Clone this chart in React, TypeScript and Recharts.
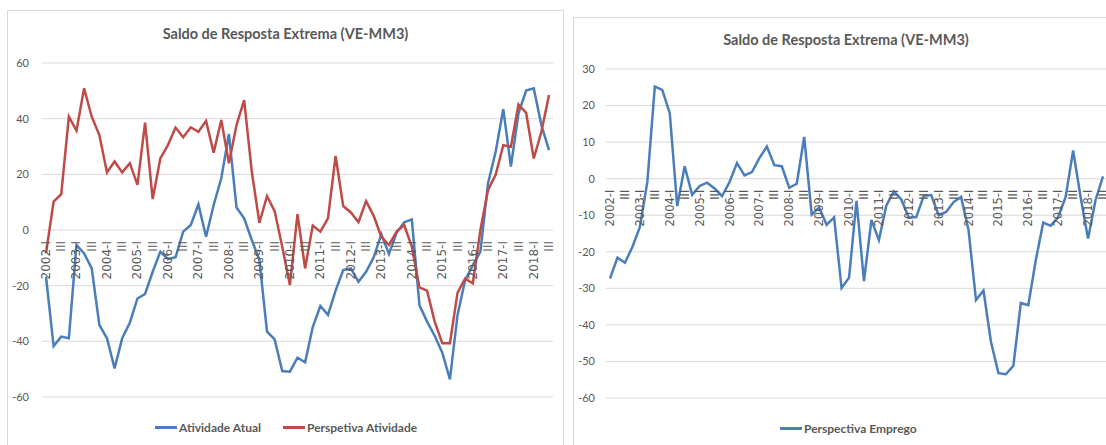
import { LineChart, Line, XAxis, YAxis, CartesianGrid, ReferenceDot } from 'recharts';

const years = [2002, 2003, 2004, 2005, 2006, 2007, 2008, 2009, 2010, 2011, 2012, 2013, 2014, 2015, 2016, 2017, 2018];
const quarterNames = ['I', 'II', 'III', 'IV'];

// Saldo de resposta extrema, média móvel de 3 meses
const atividadeAtual = [
  -16.8, -41.7, -38.3, -38.9, -5.4, -8.4, -13.8, -34.1, -38.9, -49.7, -38.9, -33.3,
  -24.6, -23.0, -15.0, -7.8, -10.5, -9.8, -0.6, 1.8, 9.2, -2.4, 9.0, 18.6,
  34.5, 8.1, 4.2, -3.6, -10.8, -36.5, -39.3, -50.7, -50.9, -45.9, -47.5, -34.9,
  -27.3, -30.5, -21.8, -14.4, -13.8, -18.6, -15.0, -9.8, -1.5, -8.6, -1.0, 2.8,
  3.8, -27.0, -32.9, -38.0, -44.1, -53.7, -30.5, -18.0, -12.6, -7.8, 16.8, 28.1,
  43.4, 22.8, 41.9, 50.1, 50.9, 37.7, 28.7,
];
const perspetivaAtividade = [
  -8.4, 10.2, 12.9, 40.7, 35.7, 50.9, 40.7, 34.1, 20.7, 24.6, 20.7, 24.0,
  16.2, 38.6, 11.1, 25.7, 30.5, 36.8, 33.3, 36.9, 35.3, 39.2, 27.8, 39.5,
  24.0, 37.7, 46.7, 21.0, 2.6, 12.2, 6.8, -6.0, -19.8, 5.7, -13.8, 1.6,
  -0.6, 4.2, 26.6, 8.6, 6.3, 2.8, 10.4, 5.1, -2.5, -5.4, -0.6, 1.8,
  -6.0, -20.6, -21.8, -32.9, -40.7, -40.7, -22.5, -17.4, -19.2, 0.0, 14.4, 19.8,
  30.5, 29.9, 45.1, 42.1, 25.7, 35.3, 48.5,
];
const perspectivaEmprego = [
  -27.3, -21.6, -23.0, -18.7, -13.2, -0.9, 25.2, 24.3, 17.9, -7.5, 3.4, -4.4,
  -2.0, -1.1, -2.7, -4.8, -0.9, 4.3, 0.9, 1.8, 5.6, 8.8, 3.7, 3.4,
  -2.5, -1.4, 11.4, -9.8, -7.9, -12.6, -10.6, -29.9, -27.1, -6.1, -28.0, -11.3,
  -16.8, -7.3, -3.5, -5.7, -10.7, -10.5, -4.7, -4.5, -10.0, -9.1, -6.4, -5.0,
  -14.1, -33.2, -30.6, -44.6, -53.2, -53.5, -51.2, -34.0, -34.6, -22.3, -12.0, -12.9,
  -10.5, -5.0, 7.7, -5.0, -16.4, -5.9, 0.6,
];

const leftTicks = [60, 40, 20, 0, -20, -40, -60];
const rightTicks = [30, 20, 10, 0, -10, -20, -30, -40, -50, -60];

const TITLE = 'Saldo de Resposta Extrema (VE-MM3)';
const BLUE = '#4a7ebb';
const RED = '#be4b48';
const GRAY = '#595959';

const quarters = years
  .flatMap((y) => quarterNames.map((q) => `${y}-${q}`))
  .slice(0, atividadeAtual.length);

// Excel shows "2002-I", "III", "2003-I", "III", ...
const tickLabels = quarters
  .filter((_, i) => i % 2 === 0)
  .map((key) => ({ key, text: key.endsWith('-I') ? key : key.split('-')[1] }));

const rows = quarters.map((q, i) => ({
  q,
  atual: atividadeAtual[i],
  persp: perspetivaAtividade[i],
  emprego: perspectivaEmprego[i],
}));

const ZeroTick = (props: any) => {
  const vb = props.viewBox || {};
  const x = vb.x ?? 0;
  const y = (vb.y ?? 0) + 11;
  return (
    <text
      x={x}
      y={y}
      transform={`rotate(-90 ${x} ${y})`}
      textAnchor="end"
      dominantBaseline="central"
      fontFamily="DejaVu Sans"
      fontSize={props.size}
      fill={GRAY}
    >
      {props.tickText}
    </text>
  );
};

const LegendItem = ({ left, top, color, label }: { left: number; top: number; color: string; label: string }) => (
  <div style={{ position: 'absolute', left, top, display: 'flex', alignItems: 'center', height: 16 }}>
    <div style={{ width: 22, height: 3, background: color, marginRight: 2 }} />
    <span style={{ fontFamily: 'Lato', fontWeight: 700, fontSize: 12, color: GRAY, whiteSpace: 'nowrap' }}>{label}</span>
  </div>
);

const titleStyle: React.CSSProperties = {
  position: 'absolute',
  textAlign: 'center',
  fontFamily: 'Lato',
  fontWeight: 700,
  fontSize: 14.5,
  lineHeight: '20px',
  color: GRAY,
  whiteSpace: 'nowrap',
};

const yTick = { fontFamily: 'Lato', fontSize: 11, fill: GRAY };

export default function App() {
  return (
    <div style={{ position: 'absolute', left: 0, top: 0, width: 1106, height: 445, overflow: 'hidden', background: '#fff' }}>
      <div style={{ position: 'absolute', left: 7, top: 10, width: 557, height: 460, border: '1px solid #d9d9d9', boxSizing: 'border-box' }} />
      <div style={{ position: 'absolute', left: 573, top: 17, width: 600, height: 460, border: '1px solid #d9d9d9', boxSizing: 'border-box' }} />

      <div style={{ ...titleStyle, left: 7, width: 557, top: 24 }}>{TITLE}</div>
      <div style={{ ...titleStyle, left: 646, width: 400, top: 30 }}>{TITLE}</div>

      <div style={{ position: 'absolute', left: 0, top: 0 }}>
        <LineChart width={563} height={445} data={rows} margin={{ top: 63, right: 10, bottom: 48, left: 0 }}>
          <CartesianGrid vertical={false} stroke="#d9d9d9" />
          <XAxis dataKey="q" hide padding={{ left: 4, right: 4 }} />
          <YAxis
            domain={[-60, 60]}
            ticks={leftTicks}
            width={42}
            axisLine={false}
            tickLine={false}
            tickSize={0}
            tickMargin={13}
            tick={yTick}
          />
          {tickLabels.map((t) => (
            <ReferenceDot key={t.key} x={t.key} y={0} r={0} fill="none" stroke="none" label={<ZeroTick tickText={t.text} size={12} />} />
          ))}
          <Line type="linear" dataKey="atual" name="Atividade Atual" stroke={BLUE} strokeWidth={2.5} dot={false} isAnimationActive={false} />
          <Line type="linear" dataKey="persp" name="Perspetiva Atividade" stroke={RED} strokeWidth={2.5} dot={false} isAnimationActive={false} />
        </LineChart>
      </div>

      <div style={{ position: 'absolute', left: 560, top: 0 }}>
        <LineChart width={547} height={445} data={rows} margin={{ top: 69, right: 0, bottom: 47, left: 0 }}>
          <CartesianGrid vertical={false} stroke="#d9d9d9" />
          <XAxis dataKey="q" hide padding={{ left: 4, right: 4 }} />
          <YAxis
            domain={[-60, 30]}
            ticks={rightTicks}
            width={46}
            axisLine={false}
            tickLine={false}
            tickSize={0}
            tickMargin={11}
            tick={yTick}
          />
          {tickLabels.map((t) => (
            <ReferenceDot key={t.key} x={t.key} y={0} r={0} fill="none" stroke="none" label={<ZeroTick tickText={t.text} size={11.5} />} />
          ))}
          <Line type="linear" dataKey="emprego" name="Perspectiva Emprego" stroke={BLUE} strokeWidth={2.5} dot={false} isAnimationActive={false} />
        </LineChart>
      </div>

      <LegendItem left={155} top={419} color={BLUE} label="Atividade Atual" />
      <LegendItem left={283} top={419} color={RED} label="Perspetiva Atividade" />
      <LegendItem left={780} top={420} color={BLUE} label="Perspectiva Emprego" />
    </div>
  );
}
